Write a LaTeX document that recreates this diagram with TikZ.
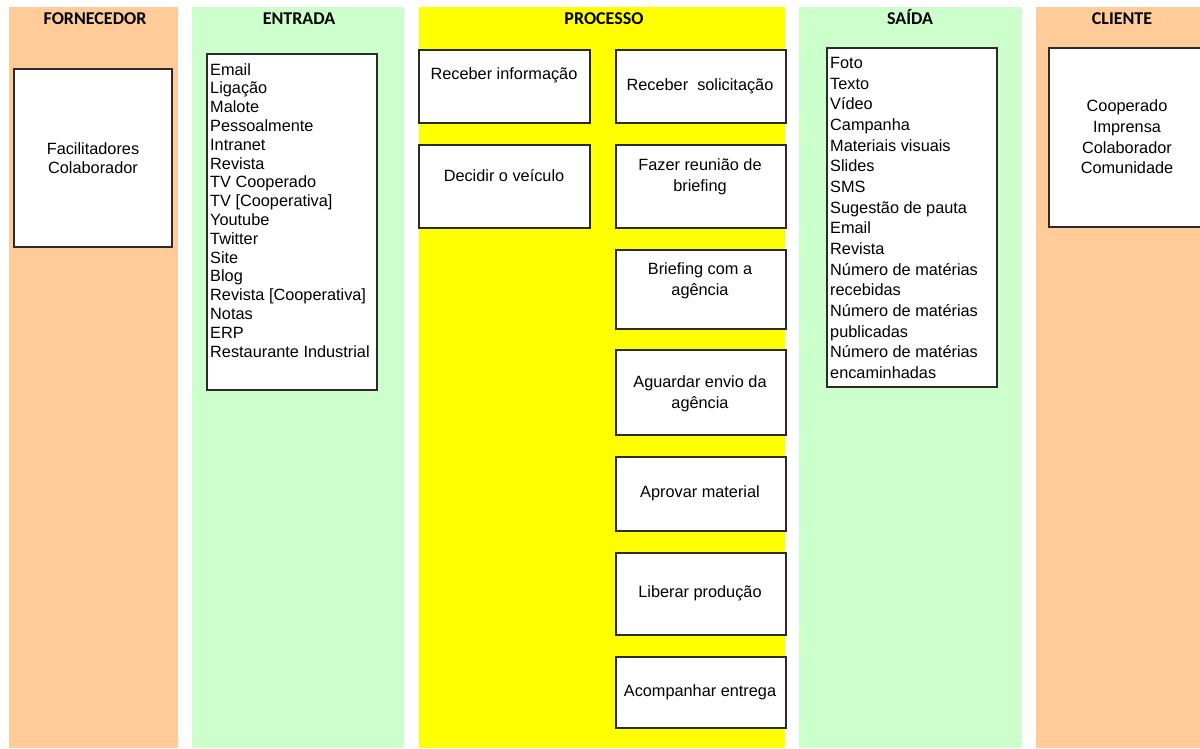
\documentclass[tikz,border=0pt]{standalone}
\usepackage{fontspec}
\setmainfont{Liberation Sans}
\newfontfamily\hdrfont{Carlito}
\definecolor{peach}{HTML}{FFCC99}
\definecolor{mint}{HTML}{CCFFCC}
\definecolor{yel}{HTML}{FFFF00}
\definecolor{edge}{HTML}{2B2B2B}
\tikzset{
  hdr/.style={font=\hdrfont\bfseries\fontsize{18}{20}\selectfont, text=black, inner sep=0pt, anchor=base},
  box/.style={draw=edge, fill=white, line width=1.1pt, inner sep=0pt, outer sep=0pt},
  txt/.style={font=\fontsize{16.3}{21}\selectfont, align=center, inner sep=0pt, text=black},
  listtxt/.style={align=left, inner sep=0pt, anchor=north west, text=black}
}
\begin{document}
\begin{tikzpicture}[x=1pt,y=-1pt]
\useasboundingbox (0,0) rectangle (1200,748);
\clip (0,0) rectangle (1200,748);
% lanes
\fill[peach] (9,7) rectangle (178,748);
\fill[mint] (192,7) rectangle (404,748);
\fill[yel] (419,7) rectangle (785,748);
\fill[mint] (799,7) rectangle (1022,748);
\fill[peach] (1036,7) rectangle (1210,748);
% headers
\node[hdr] (hF) at (95,24) {FORNECEDOR};
\node[hdr] (hE) at (299,24) {ENTRADA};
\node[hdr] (hP) at (604,24) {PROCESSO};
\node[hdr] (hS) at (910,24) {SAÍDA};
\node[hdr] (hC) at (1122,24) {CLIENTE};
% fornecedor
\node[box, minimum width=158, minimum height=178] (forn) at (93,158) {};
\node[txt, font=\fontsize{16.3}{18.5}\selectfont] (fornt) at (forn.center) {Facilitadores\\Colaborador};
% entrada
\node[box, minimum width=170, minimum height=336] (ent) at (292,222) {};
\node[listtxt, font=\fontsize{16.3}{18.8}\selectfont] (entt) at (210,63) {Email\\Ligação\\Malote\\Pessoalmente\\Intranet\\Revista\\TV Cooperado\\TV [Cooperativa]\\Youtube\\Twitter\\Site\\Blog\\Revista [Cooperativa]\\Notas\\ERP\\Restaurante Industrial};
% processo left
\node[box, minimum width=171, minimum height=73] (pl1) at (504.5,86.5) {};
\node[txt] (pl1t) at (504,75) {Receber informação};
\node[box, minimum width=171, minimum height=83] (pl2) at (504.5,186.5) {};
\node[txt] (pl2t) at (504,176) {Decidir o veículo};
% processo right
\node[box, minimum width=170, minimum height=73] (pr1) at (701,86.5) {};
\node[txt] (pr1t) at (700,86) {Receber~~solicitação};
\node[box, minimum width=170, minimum height=83] (pr2) at (701,186.5) {};
\node[txt] (pr2t) at (700,177) {Fazer reunião de\\briefing};
\node[box, minimum width=170, minimum height=79] (pr3) at (701,289.5) {};
\node[txt] (pr3t) at (700,281) {Briefing com a\\agência};
\node[box, minimum width=170, minimum height=85] (pr4) at (701,392.5) {};
\node[txt] (pr4t) at (700,394) {Aguardar envio da\\agência};
\node[box, minimum width=170, minimum height=74] (pr5) at (701,494) {};
\node[txt] (pr5t) at (700,493) {Aprovar material};
\node[box, minimum width=170, minimum height=82] (pr6) at (701,594) {};
\node[txt] (pr6t) at (700,593) {Liberar produção};
\node[box, minimum width=170, minimum height=71] (pr7) at (701,692.5) {};
\node[txt] (pr7t) at (700,692) {Acompanhar entrega};
% saida
\node[box, minimum width=170, minimum height=339] (sai) at (912,217.5) {};
\node[listtxt, font=\fontsize{16.3}{20.67}\selectfont] (sait) at (830,57) {Foto\\Texto\\Vídeo\\Campanha\\Materiais visuais\\Slides\\SMS\\Sugestão de pauta\\Email\\Revista\\Número de matérias\\recebidas\\Número de matérias\\publicadas\\Número de matérias\\encaminhadas};
% cliente
\node[box, minimum width=170, minimum height=179] (cli) at (1134,137.5) {};
\node[txt, font=\fontsize{16.3}{20.67}\selectfont] (clit) at (1127,137) {Cooperado\\Imprensa\\Colaborador\\Comunidade};
\end{tikzpicture}
\end{document}
